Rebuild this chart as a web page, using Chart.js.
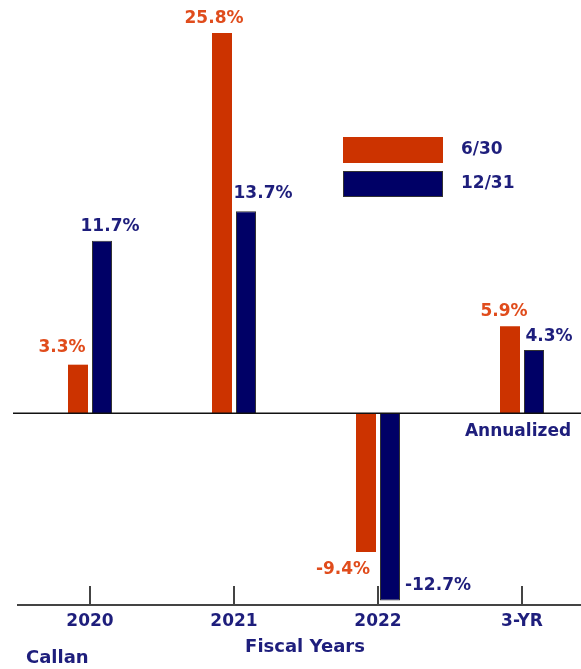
<!DOCTYPE html>
<html lang="en">

<head>
    <meta charset="UTF-8">
    <title>Fiscal Years Returns</title>
    <script src="https://cdn.jsdelivr.net/npm/chart.js"></script>
    <style>
        html, body { margin: 0; padding: 0; background: #ffffff; }
        canvas { display: block; }
    </style>
</head>

<body>
    <canvas id="retornos" width="581" height="669"></canvas>

<script>

    // ----- dados -----
    const anos = ['2020', '2021', '2022', '3-YR'];
    const serieJunho = [3.3, 25.8, -9.4, 5.9];
    const serieDezembro = [11.7, 13.7, -12.7, 4.3];
    const nomesSeries = ['6/30', '12/31'];

    const laranja = '#cc3300';
    const azul = '#000066';
    const textoLaranja = '#e04c1c';
    const textoAzul = '#1e1e7c';
    const fonte = '"DejaVu Sans", Verdana, sans-serif';

    // deslocamento dos rótulos (x, y) em relação à ponta de cada barra
    const ajusteRotulos = [
        [[-16, -17], [-8, -14], [-23, 18], [-6, -15]],
        [[8, -14], [17, -18], [48, -15], [15, -13]]
    ];

    const eixos = {
        id: 'eixos',
        afterDatasetsDraw(chart) {
            const ctx = chart.ctx;
            const x = chart.scales.x;
            const y = chart.scales.y;
            const zero = y.getPixelForValue(0);
            const base = chart.chartArea.bottom;

            ctx.save();
            // linha do zero
            ctx.strokeStyle = '#111111';
            ctx.lineWidth = 1.5;
            ctx.beginPath();
            ctx.moveTo(13, zero);
            ctx.lineTo(chart.width, zero);
            ctx.stroke();

            // eixo de baixo com marcas
            ctx.strokeStyle = '#444444';
            ctx.lineWidth = 2;
            ctx.beginPath();
            ctx.moveTo(17, base);
            ctx.lineTo(chart.width, base);
            anos.forEach((a, i) => {
                const px = Math.round(x.getPixelForValue(i));
                ctx.moveTo(px, base);
                ctx.lineTo(px, base - 19);
            });
            ctx.stroke();

            // nomes das categorias
            ctx.fillStyle = textoAzul;
            ctx.font = 'bold 17px ' + fonte;
            ctx.textAlign = 'center';
            ctx.textBaseline = 'middle';
            anos.forEach((a, i) => {
                ctx.fillText(a, x.getPixelForValue(i), base + 17);
            });

            ctx.fillText('Annualized', 518, zero + 18);
            ctx.font = 'bold 18px ' + fonte;
            ctx.fillText('Fiscal Years', 305, 647);
            ctx.textAlign = 'left';
            ctx.fillText('Callan', 26, 658);

            // valores nas barras
            ctx.font = 'bold 17px ' + fonte;
            ctx.textAlign = 'center';
            chart.data.datasets.forEach((ds, d) => {
                const meta = chart.getDatasetMeta(d);
                ctx.fillStyle = d === 0 ? textoLaranja : textoAzul;
                meta.data.forEach((barra, i) => {
                    const aj = ajusteRotulos[d][i];
                    ctx.fillText(ds.data[i].toFixed(1) + '%', barra.x + aj[0], barra.y + aj[1]);
                });
            });

            // legenda
            ctx.font = 'bold 17px ' + fonte;
            ctx.textAlign = 'left';
            chart.data.datasets.forEach((ds, d) => {
                const topo = 137 + d * 34;
                ctx.fillStyle = ds.backgroundColor;
                ctx.fillRect(343, topo, 100, 26);
                if (d === 1) {
                    ctx.strokeStyle = '#333333';
                    ctx.lineWidth = 1;
                    ctx.strokeRect(343.5, topo + 0.5, 99, 25);
                }
                ctx.fillStyle = textoAzul;
                ctx.fillText(ds.label, 461, topo + 13);
            });
            ctx.restore();
        }
    };

    new Chart(document.getElementById('retornos'), {
        type: 'bar',
        data: {
            labels: anos,
            datasets: [
                {
                    label: nomesSeries[0],
                    data: serieJunho,
                    backgroundColor: laranja,
                    borderWidth: 0,
                    clip: false
                },
                {
                    label: nomesSeries[1],
                    data: serieDezembro,
                    backgroundColor: azul,
                    borderColor: '#333333',
                    borderWidth: 1,
                    clip: false
                }
            ]
        },
        options: {
            responsive: false,
            animation: false,
            layout: {
                padding: { left: 90, right: 59, top: 30, bottom: 64 }
            },
            datasets: {
                bar: {
                    categoryPercentage: 0.3333,
                    barPercentage: 0.8333
                }
            },
            plugins: {
                legend: { display: false },
                tooltip: { enabled: false }
            },
            scales: {
                x: {
                    display: false,
                    offset: false
                },
                y: {
                    display: false,
                    min: -13,
                    max: 26
                }
            }
        },
        plugins: [eixos]
    });
</script>
</body>

</html>
